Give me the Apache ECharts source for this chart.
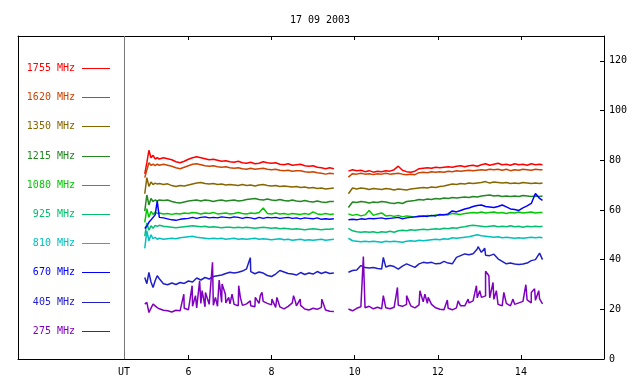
<!DOCTYPE html>
<html><head><meta charset="utf-8">
<script src="https://cdn.jsdelivr.net/npm/echarts@6/dist/echarts.min.js"></script>
<style>html,body{margin:0;padding:0;background:#fff}#c{width:640px;height:384px}</style>
</head><body><div id="c"></div>
<script>
const chartTitle = '17 09 2003';
const hourTicks = [6, 8, 10, 12, 14];
const yTicks = [0, 20, 40, 60, 80, 100, 120];
const utMark = 4.45;

const times = [4.95,5.0,5.05,5.1,5.15,5.2,5.25,5.3,5.4,5.5,
5.6,5.7,5.8,5.9,6.0,6.1,6.2,6.3,6.4,6.5,
6.6,6.7,6.8,6.9,7.0,7.1,7.2,7.3,7.4,7.5,
7.6,7.7,7.8,7.9,8.0,8.1,8.2,8.3,8.4,8.5,
8.6,8.7,8.8,8.9,9.0,9.1,9.2,9.3,9.4,9.5,
9.65,
9.85,9.95,10.05,10.15,10.25,10.35,10.45,10.55,10.65,10.75,
10.85,10.95,11.05,11.15,11.25,11.35,11.45,11.55,11.65,11.75,
11.85,11.95,12.05,12.15,12.25,12.35,12.45,12.55,12.65,12.75,
12.85,12.95,13.05,13.15,13.25,13.35,13.45,13.55,13.65,13.75,
13.85,13.95,14.05,14.15,14.25,14.35,14.45,14.52];

const f1755 = [74.5,79,84,81,82,80.5,81,80.5,81,80.6,
80.2,79.4,79,79.6,80.4,81,81.4,81,80.6,80.2,
80.4,80,79.6,79.8,79.4,79.2,79.6,79,78.8,79.2,
78.6,78.8,79.4,79,78.8,79,78.4,78.2,78.6,78,
78.2,78.4,77.8,77.6,77.8,77.2,77,76.6,77,76.6,
null,
75.6,76.2,75.8,76,75.4,75.8,75.2,75.6,75.4,75.8,
75.6,76.2,77.6,76,75.4,75.2,75.6,76.6,76.8,77,
76.8,77.2,77,77.2,77.4,77.2,77.6,77.8,77.4,77.8,
78,77.6,78.2,78.6,78,78.4,78.8,78.2,78.4,78,
78.6,78.2,78.4,78,78.6,78.2,78.4,78.2];

const f1620 = [73,76,79,78,78.4,77.8,78.4,78,78.4,78,
77.6,77,76.6,77.2,77.8,78.4,78.6,78.2,77.8,77.6,
77.8,77.4,77.2,77.4,77,76.8,77,76.6,76.4,76.8,
76.4,76.6,76.8,76.4,76.2,76.4,76,75.8,76,75.6,
75.8,75.8,75.4,75.2,75.4,75,74.8,74.4,74.8,74.6,
null,
73.2,74.6,74.4,74.8,74.4,74.6,74.2,74.6,74.4,74.8,
74.4,74.6,74.8,74.4,74.2,74.4,74.2,75,75.2,75,
75.4,75.2,75.4,75.2,75.6,75.4,75.8,75.6,75.8,76,
75.8,76,76.2,76,76.4,76.2,76.4,76,76.4,75.8,
76.2,76,76.4,76.2,76,76.4,76.2,76.2];

const f1350 = [66.5,73,69.5,71.2,70.2,70.8,70.4,70.6,70.2,70.5,
69.8,69.4,69.8,69.6,70,70.4,70.8,71,70.6,70.4,
70.6,70.2,70.4,70,70.2,70,69.8,70.2,69.8,70,
69.6,70,70.2,69.8,69.6,69.8,69.4,69.6,69.4,69.2,
69.4,69,69.2,68.8,69,68.6,68.8,68.4,68.6,68.8,
null,
66.5,68.8,68.4,68.8,68.6,68.2,68.6,68.4,68.2,68.6,
68.4,68,68.4,68.2,68,68.4,68.6,68.8,69,68.8,
69.2,69,69.4,69.6,70,70.4,70.2,70.6,70.4,70.8,
70.6,70.8,71,71.4,70.8,71.2,71,70.8,71,70.6,
70.8,70.6,71,70.8,70.6,70.8,70.6,70.8];

const f1215 = [59.5,66,62,64.6,63.4,64,63.6,64,63.8,64,
63.4,63,62.8,63.2,63.6,63.8,64,63.6,64,63.8,
63.4,63.8,64,63.6,63.8,64,63.6,63.8,64.2,64.4,
64.6,64.2,64,64.4,64,63.8,64.2,63.8,63.6,64,
63.6,63.4,63.8,63.4,63.2,63.6,63.2,63,63.4,63.4,
null,
61,63.2,63,63.4,63.2,62.8,63.2,63,63.4,63.2,
62.8,62.6,63,62.6,63.4,63.6,63.8,64.2,64,64.4,
64.2,64.6,64.4,64.8,64.6,65,64.8,65,65.2,65,
65.4,65.2,65.6,65.8,66,65.6,65.8,65.4,65.6,65.4,
65.6,65.4,65.8,65.6,65.4,65.6,65.4,65.6];

const f1080 = [55,60.5,57,59.4,58.2,59,58.6,58.8,58.4,58.6,
58.2,58.6,58.4,58.8,58.6,59,58.8,58.4,58.8,58.6,
59,58.4,58.6,58.8,58.4,58.6,59,58.6,58.4,58.8,
58.6,59,60.8,58.6,58.4,58.8,58.4,58.6,58.2,58.6,
58.4,58.2,58.6,58.2,59.2,58.4,58.2,58.6,58.2,58.4,
null,
58.4,57.8,58.2,57.6,58,59.8,57.8,58.4,58.8,57.6,
57.8,57.4,57.8,57.2,57.6,57.4,57.2,57.6,57.4,57.8,
57.6,58,57.8,58.2,58,58.6,58.4,58.2,58.6,58.8,
59,58.8,59.2,58.8,59,59.2,58.8,59,58.6,59,
58.8,59.2,58.8,59,59.2,58.8,59,59];

const f925 = [49.5,54.8,51.8,53.6,52.6,53.8,53.4,53.8,53.4,53.2,
53,52.8,53,53.2,53.4,53.6,53.4,53.2,53.4,53,
53.2,53,52.8,53,53,52.8,53,52.8,53,52.8,
52.6,52.8,53,52.8,52.6,52.8,52.4,52.6,52.4,52.2,
52.4,52.2,52,52.2,52.4,52.2,52,52.2,52.2,52.4,
null,
52.6,51.6,51.2,51,51.2,51,51.2,50.8,51.2,51,
51.4,51,51.6,51.8,51.6,52,51.8,52,52.2,52,
52.2,52.4,52.2,52.6,52.4,52.8,52.6,53,53.2,53.6,
53.8,53.6,53.4,53.2,53.4,53.6,53.2,53.4,53.2,53.6,
53.2,53.4,53,53.4,53.2,53.4,53.2,53.4];

const f810 = [44.5,51.6,47.6,50,48.4,49,48.2,48.6,48.2,48.4,
48.6,48.4,48.8,49,49.2,49.4,49,48.8,48.6,48.4,
48.6,48.4,48.6,48.2,48.4,48.6,48.2,48.4,48.2,48.4,
48.6,48.2,48.4,48.2,48,48.2,48.4,48,48.2,47.8,
48,48.2,47.8,48,47.8,48,48.2,47.8,48,48.2,
null,
48.6,47.6,47.4,47.2,47.4,47.2,47.4,47.2,47,47.4,
47.2,47.4,47.2,47,47.4,47.6,47.4,47.8,47.6,47.8,
48,48.2,48,48.4,48.2,48.8,48.6,48.8,49,49.2,
49.6,50,49.6,49.4,49.2,49,49.2,48.8,49,48.8,
48.6,48.8,48.6,48.8,49,48.8,49,48.8];

const f670 = [52.5,53.5,55,56,57,58,63.5,57,56.8,56.4,
56,55.8,56.2,56.4,56.6,57,56.6,57,57.2,56.8,
57,56.8,57.2,57,56.8,57.2,57,56.6,57,56.8,
56.4,57,56.6,57,56.8,57,56.6,56.8,57,56.6,
56.8,56.4,56.8,56.6,56.4,56.8,56.2,56.4,56.2,56.4,
null,
56,56.2,56,56.4,56.2,56.6,56.4,56.6,56.8,56.4,
56.6,56.8,57,56.4,56.8,57,57.2,57.4,57.6,57.4,
57.8,57.6,58.2,58,58.4,59.6,59.2,59.8,60.4,60.8,
61.4,61.8,62,61.4,61.2,61,61.4,62,61.2,60.4,
60.2,59.8,60.8,61.6,62.6,66.6,64.6,63.8];

const f405 = [32.8,30.3,34.9,31,28.8,31.5,33.5,32.3,30.3,29.9,
30.6,30,30.8,30.4,31.4,31,32.6,31.8,32.8,32.2,
33.2,33.5,33.8,34.4,34.9,34.6,34.9,35.4,36.3,35.2,
34.3,35,34.6,33.6,33.2,34.2,35.6,35,34.4,34.2,
33.8,34.8,34,34.6,34.2,35.2,34.4,35,34.4,34.6,
null,
34.9,35.6,35.8,37.6,36.8,36.6,36.8,36.4,36.2,37,
37.6,37.2,36.2,37.4,38.3,37.6,36.9,38.3,38.9,38.6,
38.9,38.3,38.4,39.3,38.6,38.3,40.9,41.6,42.3,42,
42.4,44.3,42.9,41.8,41.6,42.2,40.3,39.3,38.3,38.6,
38.2,38,38.2,38.6,39.6,40,42.6,40];
const spikes405 = [[7.49,40.8],[10.69,40.9],[12.97,45.2],[13.13,44.6]];

const f275 = [22.1,22.8,18.7,20.5,22.1,21.4,20.7,20.2,19.6,19.4,
18.9,19.6,19.4,20.4,19.8,21.2,20.6,22.4,21,22,
21.6,21.2,22.8,22.6,22.2,22,21.4,21.6,22.2,21.4,
21,22.4,23.2,22.4,21.8,20.8,21,20.2,21.2,22.6,
21.4,21.6,20.1,19.7,20.4,20,20.8,19.7,19.2,19.1,
null,
20.1,19.4,20.4,21,20.6,21.2,20.2,20.8,20.2,20.6,
20.2,20.8,21.6,21.2,22,21.4,20.6,21.8,23,22.4,
22,20.6,20,19.8,20.4,19.8,20.6,21.4,21.4,22.6,
23.4,24.6,24.8,25.4,24.6,24,22,21.4,22.4,21.4,
22,22.6,23.2,23.8,22.6,23.6,24.2,22.2];
const spikes275 = [[5.89,26.1],[6.09,29.5],[6.17,25.5],[6.27,31.5],[6.33,27.5],[6.41,26.8],
[6.58,38.9],[6.65,24.8],[6.74,31.8],[6.81,30.2],[6.89,26.1],[6.97,24.8],[7.05,26.1],
[7.21,29.5],[7.25,24.8],[7.49,23.4],[7.61,24.8],[7.73,25.5],[7.77,26.8],[8.01,24.1],
[8.13,24.8],[8.53,25.5],[8.57,23.4],[8.69,24.1],[9.21,24.1],
[10.21,41.2],[10.69,25.5],[11.03,28.8],[11.25,25.5],[11.57,27.5],[11.69,26.1],[11.77,24.8],
[12.23,23.7],[12.49,23.4],[12.73,24.1],[12.93,29.5],[13.01,27.5],[13.15,35.3],[13.23,33.5],
[13.33,30.8],[13.41,27.5],[13.59,26.8],[13.81,24.1],[14.12,29.9],[14.25,26.8],[14.33,28.3],[14.43,27.5]];

const seriesNames = ['1755 MHz','1620 MHz','1350 MHz','1215 MHz','1080 MHz','925 MHz','810 MHz','670 MHz','405 MHz','275 MHz'];
const seriesValues = [f1755,f1620,f1350,f1215,f1080,f925,f810,f670,f405,f275];
const seriesSpikes = [[],[],[],[],[],[],[],[],spikes405,spikes275];
const seriesColors = ['#ff0000','#cc4400','#886600','#228822','#00c800','#00c070','#00c0c0','#0000ff','#2020c8','#8000c0'];

const FONT = 'DejaVu Sans Mono';
const chart = echarts.init(document.getElementById('c'), null, {renderer: 'canvas'});

const series = seriesNames.map((name, k) => {
  const pts = times.map((t, i) => [t, seriesValues[k][i]]).concat(seriesSpikes[k]);
  pts.sort((a, b) => a[0] - b[0]);
  const s = {
    name: name, type: 'line', symbol: 'none', showSymbol: false,
    connectNulls: false, animation: false, silent: true,
    lineStyle: {color: seriesColors[k], width: 1.5},
    itemStyle: {color: seriesColors[k]},
    data: pts
  };
  if (k === 0) {
    s.markLine = {
      symbol: 'none', silent: true, animation: false,
      label: {show: false},
      lineStyle: {color: '#777777', type: 'solid', width: 1},
      data: [{xAxis: utMark}]
    };
  }
  return s;
});

// legend drawn as graphic: right-aligned labels with a short line sample
const legendGraphic = [];
seriesNames.forEach((n, k) => {
  const y = Math.round(68 + 29.2 * k) + 0.5;
  legendGraphic.push({type: 'text', x: 75, y: y, silent: true,
    style: {text: n, fill: seriesColors[k], font: '10px "DejaVu Sans Mono"', align: 'right', verticalAlign: 'middle'}});
  legendGraphic.push({type: 'line', silent: true,
    shape: {x1: 82, y1: y, x2: 110, y2: y}, style: {stroke: seriesColors[k], lineWidth: 1}});
});

const xCommon = {
  type: 'value', min: 1.9, max: 16,
  splitLine: {show: false},
  axisLine: {show: true, onZero: false, lineStyle: {color: '#000', width: 1}},
  axisTick: {show: true, inside: true, length: 4, customValues: hourTicks, lineStyle: {color: '#000'}}
};

chart.setOption({
  animation: false,
  backgroundColor: '#fff',
  title: {
    text: chartTitle, left: 'center', top: 10,
    textStyle: {fontFamily: FONT, fontSize: 10, fontWeight: 'normal', color: '#000'}
  },
  graphic: legendGraphic,
  grid: {left: 18, right: 36, top: 36, bottom: 25, containLabel: false},
  xAxis: [
    Object.assign({}, xCommon, {
      position: 'bottom',
      axisLabel: {
        customValues: [utMark].concat(hourTicks),
        formatter: v => (v === utMark ? 'UT' : String(v)),
        color: '#000', fontFamily: FONT, fontSize: 10, margin: 8
      }
    }),
    Object.assign({}, xCommon, {position: 'top', axisLabel: {show: false}})
  ],
  yAxis: [
    {
      type: 'value', min: 0, max: 130, position: 'right',
      splitLine: {show: false},
      axisLine: {show: true, onZero: false, lineStyle: {color: '#000', width: 1}},
      axisTick: {show: true, inside: true, length: 4, customValues: yTicks, lineStyle: {color: '#000'}},
      axisLabel: {customValues: yTicks, color: '#000', fontFamily: FONT, fontSize: 10, margin: 5}
    },
    {
      type: 'value', min: 0, max: 130, position: 'left',
      splitLine: {show: false},
      axisLine: {show: true, onZero: false, lineStyle: {color: '#000', width: 1}},
      axisTick: {show: false},
      axisLabel: {show: false}
    }
  ],
  series: series
});
</script>
</body></html>
